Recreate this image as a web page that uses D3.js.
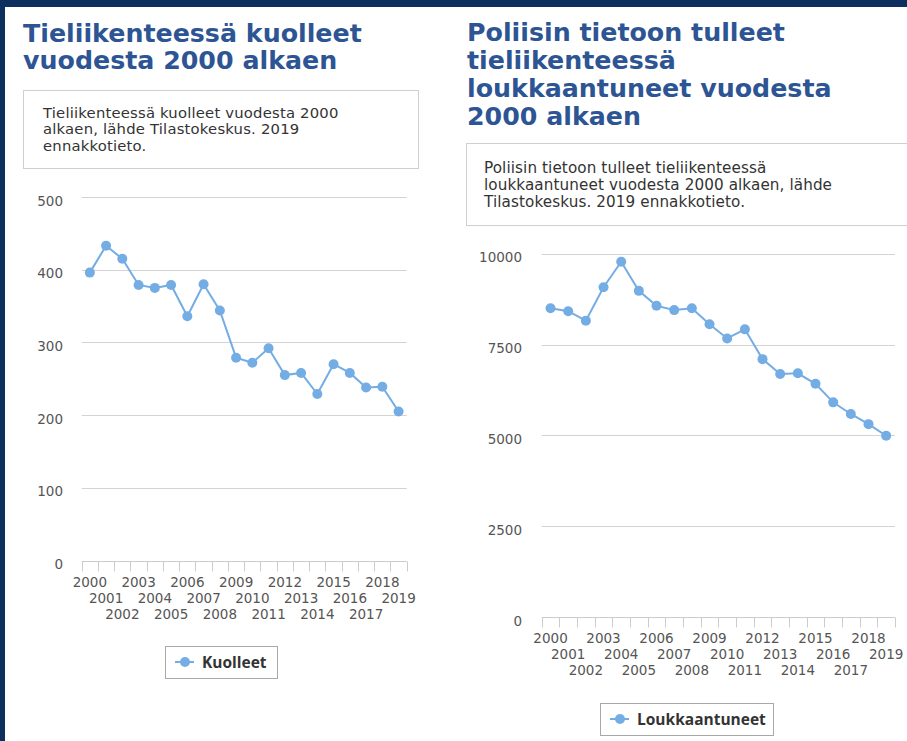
<!DOCTYPE html>
<html><head><meta charset="utf-8">
<script src="https://cdn.jsdelivr.net/npm/d3@7"></script>
<style>body{margin:0;background:#fff;} svg{display:block}</style>
</head><body>
<svg id="c" width="907" height="741"></svg>
<script>
const years = ["2000","2001","2002","2003","2004","2005","2006","2007","2008","2009","2010","2011","2012","2013","2014","2015","2016","2017","2018","2019"];
const kuolleet = [396,433,415,379,375,379,336,380,344,279,272,292,255,258,229,270,258,238,239,205];
const loukkaantuneet = [8500,8420,8160,9080,9780,8980,8570,8450,8500,8060,7670,7920,7100,6690,6710,6420,5910,5590,5310,4990];
const ticksLeft = [0,100,200,300,400,500];
const ticksRight = [0,2500,5000,7500,10000];
const titleLeft = ["Tieliikenteessä kuolleet","vuodesta 2000 alkaen"];
const titleRight = ["Poliisin tietoon tulleet","tieliikenteessä","loukkaantuneet vuodesta","2000 alkaen"];
const descLeft = ["Tieliikenteessä kuolleet vuodesta 2000","alkaen, lähde Tilastokeskus. 2019","ennakkotieto."];
const descRight = ["Poliisin tietoon tulleet tieliikenteessä","loukkaantuneet vuodesta 2000 alkaen, lähde","Tilastokeskus. 2019 ennakkotieto."];
const seriesLeft = "Kuolleet";
const seriesRight = "Loukkaantuneet";

const svg = d3.select("#c");
const NAVY = "#0c2f5e", BLUE = "#2d5594", LINE = "#74ade4";
svg.append("rect").attr("width",907).attr("height",741).attr("fill","#fff");
svg.append("rect").attr("width",907).attr("height",7).attr("fill",NAVY);
svg.append("rect").attr("width",5).attr("height",741).attr("fill",NAVY);

function drawChart(o){
  const g = svg.append("g");
  o.title.forEach((t,i)=>{
    g.append("text").attr("x",o.tx).attr("y",o.ty + i*o.tlh)
      .attr("font-family","'DejaVu Sans', sans-serif").attr("font-weight",700)
      .attr("font-size",o.tfs).attr("fill",BLUE).text(t);
  });
  g.append("rect").attr("x",o.box[0]+0.5).attr("y",o.box[1]+0.5).attr("width",o.box[2]).attr("height",o.box[3])
    .attr("fill","#fff").attr("stroke","#cfcfcf");
  o.desc.forEach((t,i)=>{
    g.append("text").attr("x",o.dx).attr("y",o.dy + i*o.dlh)
      .attr("font-family","'DejaVu Sans', sans-serif").attr("font-size",o.dfs).attr("letter-spacing",o.dls)
      .attr("fill","#333").text(t);
  });
  const x = d3.scaleBand().domain(years).range([o.x0,o.x1]);
  const y = d3.scaleLinear().domain([0,o.max]).range([o.yb,o.yt]);
  g.append("g").selectAll("line").data(o.ticks.filter(d=>d>0)).join("line")
    .attr("x1",o.x0).attr("x2",o.x1).attr("y1",d=>Math.round(y(d))+0.5).attr("y2",d=>Math.round(y(d))+0.5)
    .attr("stroke","#d3d3d3").attr("stroke-width",1);
  const ya = g.append("g").attr("transform",`translate(${o.ylx},0)`)
    .call(d3.axisLeft(y).tickValues(o.ticks).tickSize(0).tickPadding(0).tickFormat(d3.format("d")));
  ya.select(".domain").remove();
  ya.selectAll("text").attr("font-family","'DejaVu Sans', Verdana, sans-serif").attr("font-size",13.5)
    .attr("fill","#555").attr("dy","0.6em");
  const ay = Math.round(y(0))+0.5;
  g.append("line").attr("x1",o.x0).attr("x2",o.x1).attr("y1",ay).attr("y2",ay).attr("stroke","#cccccc");
  const bounds = years.map(d=>x(d)).concat([x(years[years.length-1])+x.bandwidth()]);
  g.append("g").selectAll("line").data(bounds).join("line")
    .attr("x1",d=>Math.round(d)+0.5).attr("x2",d=>Math.round(d)+0.5).attr("y1",ay).attr("y2",ay+10)
    .attr("stroke","#cccccc");
  const xa = g.append("g").attr("transform",`translate(0,${ay})`)
    .call(d3.axisBottom(x).tickSize(0).tickPadding(0));
  xa.select(".domain").remove();
  xa.selectAll("text").attr("font-family","'DejaVu Sans', Verdana, sans-serif").attr("font-size",13.5)
    .attr("fill","#555").attr("dy",null)
    .attr("y",(d,i)=>25.5 + (i%3)*16);
  const line = d3.line().x((d,i)=>x(years[i])+x.bandwidth()/2).y(d=>y(d));
  g.append("path").datum(o.data).attr("d",line).attr("fill","none").attr("stroke",LINE).attr("stroke-width",2);
  g.append("g").selectAll("circle").data(o.data).join("circle")
    .attr("cx",(d,i)=>x(years[i])+x.bandwidth()/2).attr("cy",d=>y(d)).attr("r",5).attr("fill",LINE);
  const L = o.leg;
  g.append("rect").attr("x",L[0]+0.5).attr("y",L[1]+0.5).attr("width",L[2]).attr("height",L[3])
    .attr("fill","#fff").attr("stroke","#a8a8a8");
  const ly = L[1]+L[3]/2;
  g.append("line").attr("x1",L[0]+10).attr("x2",L[0]+29).attr("y1",ly).attr("y2",ly).attr("stroke",LINE).attr("stroke-width",2);
  g.append("circle").attr("cx",L[0]+20).attr("cy",ly).attr("r",5).attr("fill",LINE);
  g.append("text").attr("x",L[0]+37).attr("y",ly+5.5).attr("font-family","'Open Sans', sans-serif")
    .attr("font-weight",700).attr("font-size",15.5).attr("fill","#333").text(o.name);
}

drawChart({title:titleLeft, tx:23, ty:42, tlh:26.7, tfs:25.3,
  box:[23,90,395,78], desc:descLeft, dx:43, dy:117.5, dlh:16.5, dfs:14.8, dls:0.2,
  x0:81.7, x1:406.7, yb:560.5, yt:197, max:500, ticks:ticksLeft, ylx:63,
  data:kuolleet, name:seriesLeft, leg:[165,646,112,32]});
drawChart({title:titleRight, tx:467, ty:41, tlh:28, tfs:25.3,
  box:[466,143,450,82], desc:descRight, dx:484, dy:173, dlh:17, dfs:15.2, dls:0.1,
  x0:541.7, x1:895, yb:617, yt:253.8, max:10000, ticks:ticksRight, ylx:522,
  data:loukkaantuneet, name:seriesRight, leg:[600,703,173,32]});
</script>
</body></html>
